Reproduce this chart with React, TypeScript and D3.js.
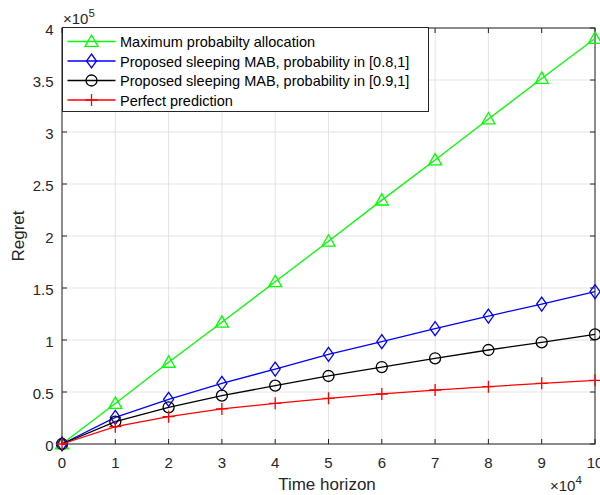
import React from "react";
import * as d3 from "d3";

const xTicks = [0, 1, 2, 3, 4, 5, 6, 7, 8, 9, 10];
const yTicks = [0, 0.5, 1, 1.5, 2, 2.5, 3, 3.5, 4];
const timeHorizon = [0, 1, 2, 3, 4, 5, 6, 7, 8, 9, 10];
const maxProbAlloc = [0, 0.39, 0.785, 1.17, 1.56, 1.95, 2.345, 2.73, 3.125, 3.515, 3.9];
const sleeping08 = [0, 0.256, 0.43, 0.583, 0.72, 0.862, 0.984, 1.109, 1.23, 1.346, 1.465];
const sleeping09 = [0, 0.215, 0.353, 0.465, 0.561, 0.654, 0.74, 0.824, 0.904, 0.978, 1.054];
const perfect = [0, 0.167, 0.263, 0.337, 0.391, 0.439, 0.481, 0.519, 0.551, 0.583, 0.612];

const seriesNames = [
  "Maximum probabilty allocation",
  "Proposed sleeping MAB, probability in [0.8,1]",
  "Proposed sleeping MAB, probability in [0.9,1]",
  "Perfect prediction",
];
const seriesColors = ["#00ff00", "#0000ff", "#000000", "#ff0000"];
const seriesMarkers = ["triangle", "diamond", "circle", "plus"];
const seriesData = [maxProbAlloc, sleeping08, sleeping09, perfect];

const W = 600, H = 495;
const L = 62, R = 595, T = 28, B = 444;
const FONT = "'Liberation Sans', Arial, Helvetica, sans-serif";
const AX = "#262626";

function Marker({ type, x, y, color }: { type: string; x: number; y: number; color: string }) {
  const sw = 1.3;
  if (type === "triangle") {
    const s = 6.5;
    return <path d={`M${x},${y - s}L${x + s},${y + s * 0.75}L${x - s},${y + s * 0.75}Z`} fill="none" stroke={color} strokeWidth={sw} />;
  }
  if (type === "diamond") {
    return <path d={`M${x},${y - 7}L${x + 5},${y}L${x},${y + 7}L${x - 5},${y}Z`} fill="none" stroke={color} strokeWidth={sw} />;
  }
  if (type === "circle") {
    return <circle cx={x} cy={y} r={5.5} fill="none" stroke={color} strokeWidth={sw} />;
  }
  return <path d={`M${x - 6},${y}L${x + 6},${y}M${x},${y - 6}L${x},${y + 6}`} fill="none" stroke={color} strokeWidth={sw} />;
}

export default function App() {
  const x = d3.scaleLinear().domain([0, 10]).range([L, R]);
  const y = d3.scaleLinear().domain([0, 4]).range([B, T]);
  const line = d3.line<number>().x((_, i) => x(timeHorizon[i])).y((d) => y(d));

  return (
    <svg width={W} height={H} style={{ position: "absolute", left: 0, top: 0 }} fontFamily={FONT}>
      <rect x={0} y={0} width={W} height={H} fill="#fff" />
      {xTicks.map((t) => (
        <line key={"gx" + t} x1={x(t)} x2={x(t)} y1={T} y2={B} stroke="#e3e3e3" strokeWidth={1} />
      ))}
      {yTicks.map((t) => (
        <line key={"gy" + t} x1={L} x2={R} y1={y(t)} y2={y(t)} stroke="#e3e3e3" strokeWidth={1} />
      ))}
      {/* ticks */}
      {xTicks.map((t) => (
        <g key={"tx" + t}>
          <line x1={x(t)} x2={x(t)} y1={B} y2={B - 5} stroke={AX} />
          <line x1={x(t)} x2={x(t)} y1={T} y2={T + 5} stroke={AX} />
          <text x={x(t)} y={B + 24} textAnchor="middle" fontSize={15} fill={AX}>{t}</text>
        </g>
      ))}
      {yTicks.map((t) => (
        <g key={"ty" + t}>
          <line x1={L} x2={L + 5} y1={y(t)} y2={y(t)} stroke={AX} />
          <line x1={R} x2={R - 5} y1={y(t)} y2={y(t)} stroke={AX} />
          <text x={L - 8.5} y={y(t) + 6.5} textAnchor="end" fontSize={15} fill={AX}>{t}</text>
        </g>
      ))}
      <rect x={L} y={T} width={R - L} height={B - T} fill="none" stroke={AX} strokeWidth={1} />
      {/* series */}
      {seriesData.map((s, si) => (
        <g key={"s" + si}>
          <path d={line(s) || ""} fill="none" stroke={seriesColors[si]} strokeWidth={1.3} />
          {s.map((v, i) => (
            <Marker key={i} type={seriesMarkers[si]} x={x(timeHorizon[i])} y={y(v)} color={seriesColors[si]} />
          ))}
        </g>
      ))}
      {/* exponents */}
      <text x={L + 1} y={24} fontSize={15} fill={AX}>
        <tspan>×10</tspan>
        <tspan dy={-7} fontSize={11.5}>5</tspan>
      </text>
      <text x={550} y={491} fontSize={15} fill={AX}>
        <tspan>×10</tspan>
        <tspan dy={-7} fontSize={11.5}>4</tspan>
      </text>
      {/* axis labels */}
      <text x={327} y={490} textAnchor="middle" fontSize={17} fill={AX}>Time horizon</text>
      <text transform={`translate(24,${(T + B) / 2}) rotate(-90)`} textAnchor="middle" fontSize={17} fill={AX}>Regret</text>
      {/* legend */}
      <rect x={62.5} y={27.5} width={366} height={84} fill="#fff" stroke={AX} strokeWidth={1} />
      {seriesNames.map((n, i) => {
        const ly = 41.5 + i * 19.5;
        return (
          <g key={"lg" + i}>
            <line x1={67.5} x2={115.5} y1={ly} y2={ly} stroke={seriesColors[i]} strokeWidth={1.3} />
            <Marker type={seriesMarkers[i]} x={91.5} y={ly} color={seriesColors[i]} />
            <text x={120} y={ly + 5.5} fontSize={14.5} fill="#000">{n}</text>
          </g>
        );
      })}
    </svg>
  );
}
